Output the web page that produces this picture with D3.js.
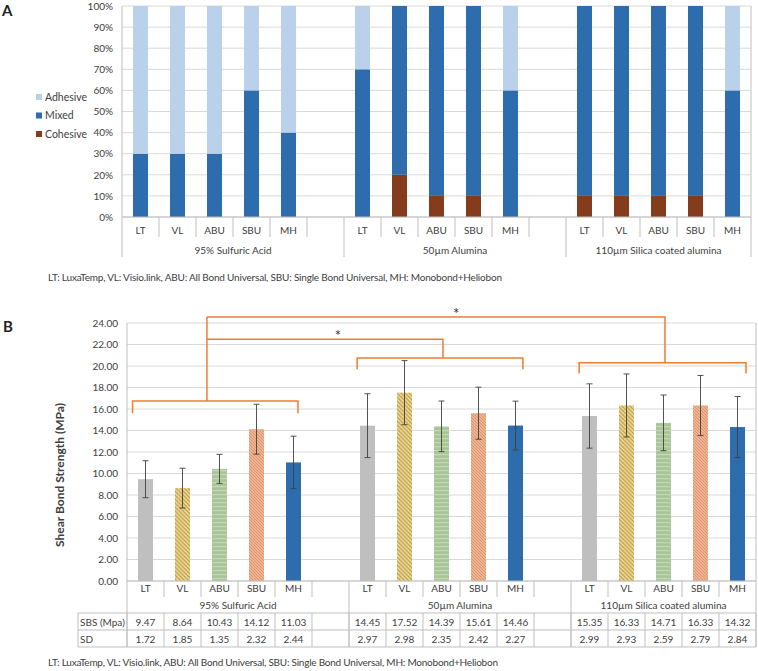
<!DOCTYPE html>
<html>
<head>
<meta charset="utf-8">
<script src="https://cdn.jsdelivr.net/npm/d3@7"></script>
<style>
  body { margin: 0; background: #fff; }
  svg text { font-family: Lato, "Open Sans", sans-serif; fill: #404040; }
</style>
</head>
<body>
<div id="chart"></div>
<script>
// data
var groups = ["95% Sulfuric Acid", "50\u00b5m Alumina", "110\u00b5m Silica coated alumina"];
var materials = ["LT", "VL", "ABU", "SBU", "MH"];
var failureTypes = ["Adhesive", "Mixed", "Cohesive"];
// failure mode (%) per group, per material
var cohesive = [[0, 0, 0, 0, 0], [0, 20, 10, 10, 0], [10, 10, 10, 10, 0]];
var mixed    = [[30, 30, 30, 60, 40], [70, 80, 90, 90, 60], [90, 90, 90, 90, 60]];
var adhesive = [[70, 70, 70, 40, 60], [30, 0, 0, 0, 40], [0, 0, 0, 0, 40]];
// shear bond strength (MPa)
var sbs = [[9.47, 8.64, 10.43, 14.12, 11.03], [14.45, 17.52, 14.39, 15.61, 14.46], [15.35, 16.33, 14.71, 16.33, 14.32]];
var sd  = [[1.72, 1.85, 1.35, 2.32, 2.44], [2.97, 2.98, 2.35, 2.42, 2.27], [2.99, 2.93, 2.59, 2.79, 2.84]];
var pctTicks = [0, 10, 20, 30, 40, 50, 60, 70, 80, 90, 100];
var mpaTicks = [0, 2, 4, 6, 8, 10, 12, 14, 16, 18, 20, 22, 24];
var footnote = "LT: LuxaTemp, VL: Visio.link, ABU: All Bond Universal, SBU: Single Bond Universal, MH: Monobond+Heliobon";

var W = 758, H = 671;
var svg = d3.select("#chart").append("svg").attr("width", W).attr("height", H);

var nSlots = groups.length * 6 - 1;
function slot(g, i) { return g * 6 + i; }
function isEdge(d) { return d === 0 || d === nSlots; }
function isGroupSep(d) { return d % 6 === 0 || d === nSlots; }

var gridCol = "#d9d9d9", lineCol = "#bfbfbf";
var fmColor = { Adhesive: "#b9d1ea", Mixed: "#2e6dad", Cohesive: "#843c1c" };

// patterns for panel B
var defs = svg.append("defs");
var pVL = defs.append("pattern").attr("id", "pVL").attr("patternUnits", "userSpaceOnUse")
  .attr("width", 4).attr("height", 4);
pVL.append("rect").attr("width", 4).attr("height", 4).attr("fill", "#ecd898");
pVL.append("path").attr("d", "M0,0 L4,4 M-1,3 L1,5 M3,-1 L5,1").attr("stroke", "#c6a550").attr("stroke-width", 1.3);
var pSBU = defs.append("pattern").attr("id", "pSBU").attr("patternUnits", "userSpaceOnUse")
  .attr("width", 3).attr("height", 3);
pSBU.append("rect").attr("width", 3).attr("height", 3).attr("fill", "#f2c2a3");
pSBU.append("path").attr("d", "M0,0 L3,3 M-1,2 L1,4 M2,-1 L4,1").attr("stroke", "#e0916a").attr("stroke-width", 1.1);
var pABU = defs.append("pattern").attr("id", "pABU").attr("patternUnits", "userSpaceOnUse")
  .attr("width", 4).attr("height", 4);
pABU.append("rect").attr("width", 4).attr("height", 4).attr("fill", "#a9c597");
pABU.append("rect").attr("y", 2).attr("width", 4).attr("height", 1.2).attr("fill", "#c3d8b4");
var matFill = { LT: "#bfbfbf", VL: "url(#pVL)", ABU: "url(#pABU)", SBU: "url(#pSBU)", MH: "#2e6dad" };

// ---------------- Panel A ----------------
var xa = d3.scaleLinear().domain([0, nSlots]).range([122, 751]);
var ya = d3.scaleLinear().domain([0, 100]).range([217, 6]);
var barWA = 15;

svg.append("text").attr("x", 2).attr("y", 16).text("A")
  .style("font-weight", "bold").style("font-size", "15px").style("fill", "#222");

var ga = svg.append("g");
ga.selectAll(".grid").data(pctTicks).enter().append("line")
  .attr("x1", xa(0)).attr("x2", xa(nSlots))
  .attr("y1", function(d) { return ya(d); }).attr("y2", function(d) { return ya(d); })
  .attr("stroke", gridCol);

var axA = ga.append("g").attr("transform", "translate(" + xa(0) + ",0)")
  .call(d3.axisLeft(ya).tickValues(pctTicks).tickSize(0).tickPadding(9).tickFormat(function(d) { return d + "%"; }));
axA.select(".domain").remove();
axA.selectAll("text").style("font-size", "10px").style("fill", "#404040");

// stacked bars
var stackA = [];
groups.forEach(function(gname, g) {
  materials.forEach(function(m, i) {
    var c = cohesive[g][i], mx = mixed[g][i], a = adhesive[g][i];
    stackA.push({ s: slot(g, i), type: "Cohesive", y0: 0, y1: c });
    stackA.push({ s: slot(g, i), type: "Mixed", y0: c, y1: c + mx });
    stackA.push({ s: slot(g, i), type: "Adhesive", y0: c + mx, y1: c + mx + a });
  });
});
ga.selectAll(".seg").data(stackA.filter(function(d) { return d.y1 > d.y0; })).enter().append("rect")
  .attr("x", function(d) { return xa(d.s + 0.5) - barWA / 2; })
  .attr("width", barWA)
  .attr("y", function(d) { return ya(d.y1); })
  .attr("height", function(d) { return ya(d.y0) - ya(d.y1); })
  .attr("fill", function(d) { return fmColor[d.type]; });

// category axis A
ga.append("line").attr("x1", xa(0)).attr("x2", xa(nSlots)).attr("y1", ya(0)).attr("y2", ya(0)).attr("stroke", lineCol);
ga.selectAll(".csep").data(d3.range(0, nSlots + 1)).enter().append("line")
  .attr("x1", function(d) { return xa(d); }).attr("x2", function(d) { return xa(d); })
  .attr("y1", function(d) { return isEdge(d) ? ya(100) : ya(0); })
  .attr("y2", function(d) { return isGroupSep(d) ? 257 : 237; })
  .attr("stroke", lineCol);
groups.forEach(function(gname, g) {
  ga.selectAll(".cl" + g).data(materials).enter().append("text")
    .attr("x", function(d, i) { return xa(slot(g, i) + 0.5); })
    .attr("y", 234).attr("text-anchor", "middle").style("font-size", "10px")
    .text(function(d) { return d; });
  var gEnd = g < groups.length - 1 ? slot(g, 6) : nSlots;
  ga.append("text").attr("x", (xa(slot(g, 0)) + xa(gEnd)) / 2).attr("y", 254)
    .attr("text-anchor", "middle").style("font-size", "10px").text(gname);
});

// legend A
var leg = ga.selectAll(".leg").data(failureTypes).enter().append("g")
  .attr("transform", function(d, i) { return "translate(36," + (97 + i * 18.5) + ")"; });
leg.append("rect").attr("x", 0).attr("y", -3).attr("width", 6).attr("height", 6)
  .attr("fill", function(d) { return fmColor[d]; });
leg.append("text").attr("x", 9).attr("y", 3.5).style("font-size", "10.5px").text(function(d) { return d; });

svg.append("text").attr("x", 48).attr("y", 281).style("font-size", "10px")
  .attr("textLength", 454).attr("lengthAdjust", "spacing").text(footnote);

// ---------------- Panel B ----------------
var xb = d3.scaleLinear().domain([0, nSlots]).range([127, 756]);
var yb = d3.scaleLinear().domain([0, 24]).range([581, 323]);
var barWB = 15;

svg.append("text").attr("x", 3).attr("y", 332).text("B")
  .style("font-weight", "bold").style("font-size", "15px").style("fill", "#222");

var gb = svg.append("g");
gb.selectAll(".grid").data(mpaTicks).enter().append("line")
  .attr("x1", xb(0)).attr("x2", xb(nSlots))
  .attr("y1", function(d) { return yb(d); }).attr("y2", function(d) { return yb(d); })
  .attr("stroke", gridCol);

var axB = gb.append("g").attr("transform", "translate(" + xb(0) + ",0)")
  .call(d3.axisLeft(yb).tickValues(mpaTicks).tickSize(0).tickPadding(9).tickFormat(d3.format(".2f")));
axB.select(".domain").remove();
axB.selectAll("text").style("font-size", "10px").style("fill", "#404040");

gb.append("text").attr("transform", "translate(64,475) rotate(-90)")
  .attr("text-anchor", "middle").style("font-size", "12px").style("font-weight", "bold")
  .text("Shear Bond Strength (MPa)");

var barsB = [];
groups.forEach(function(gname, g) {
  materials.forEach(function(m, i) {
    barsB.push({ s: slot(g, i), m: m, v: sbs[g][i], e: sd[g][i] });
  });
});
gb.selectAll(".bar").data(barsB).enter().append("rect")
  .attr("x", function(d) { return xb(d.s + 0.5) - barWB / 2; })
  .attr("width", barWB)
  .attr("y", function(d) { return yb(d.v); })
  .attr("height", function(d) { return yb(0) - yb(d.v); })
  .attr("fill", function(d) { return matFill[d.m]; });

// error bars
var eb = gb.selectAll(".err").data(barsB).enter().append("g").attr("stroke", "#404040").attr("stroke-width", 0.9);
eb.append("line")
  .attr("x1", function(d) { return xb(d.s + 0.5); }).attr("x2", function(d) { return xb(d.s + 0.5); })
  .attr("y1", function(d) { return yb(d.v - d.e); }).attr("y2", function(d) { return yb(d.v + d.e); });
eb.append("line")
  .attr("x1", function(d) { return xb(d.s + 0.5) - 3; }).attr("x2", function(d) { return xb(d.s + 0.5) + 3; })
  .attr("y1", function(d) { return yb(d.v + d.e); }).attr("y2", function(d) { return yb(d.v + d.e); });
eb.append("line")
  .attr("x1", function(d) { return xb(d.s + 0.5) - 3; }).attr("x2", function(d) { return xb(d.s + 0.5) + 3; })
  .attr("y1", function(d) { return yb(d.v - d.e); }).attr("y2", function(d) { return yb(d.v - d.e); });

// category axis + data table B
var rowCat = 597, rowGrp = 613, rowSbs = 630, rowSd = 647;
gb.append("line").attr("x1", xb(0)).attr("x2", xb(nSlots)).attr("y1", yb(0)).attr("y2", yb(0)).attr("stroke", lineCol);
gb.selectAll(".csep").data(d3.range(0, nSlots + 1)).enter().append("line")
  .attr("x1", function(d) { return xb(d); }).attr("x2", function(d) { return xb(d); })
  .attr("y1", function(d) { return isEdge(d) ? yb(24) : yb(0); })
  .attr("y2", function(d) { return isGroupSep(d) ? rowSd : rowCat; })
  .attr("stroke", lineCol);
gb.selectAll(".tsep").data(d3.range(0, nSlots + 1)).enter().append("line")
  .attr("x1", function(d) { return xb(d); }).attr("x2", function(d) { return xb(d); })
  .attr("y1", rowGrp).attr("y2", rowSd).attr("stroke", lineCol);
[rowGrp, rowSbs, rowSd].forEach(function(yy) {
  gb.append("line").attr("x1", 78).attr("x2", xb(nSlots)).attr("y1", yy).attr("y2", yy).attr("stroke", lineCol);
});
gb.append("line").attr("x1", 78).attr("x2", 78).attr("y1", rowGrp).attr("y2", rowSd).attr("stroke", lineCol);
gb.append("text").attr("x", 80).attr("y", rowSbs - 4).style("font-size", "10px").text("SBS (Mpa)");
gb.append("text").attr("x", 80).attr("y", rowSd - 4).style("font-size", "10px").text("SD");

groups.forEach(function(gname, g) {
  gb.selectAll(".cl" + g).data(materials).enter().append("text")
    .attr("x", function(d, i) { return xb(slot(g, i) + 0.5); })
    .attr("y", 592).attr("text-anchor", "middle").style("font-size", "10px")
    .text(function(d) { return d; });
  var gEnd = g < groups.length - 1 ? slot(g, 6) : nSlots;
  gb.append("text").attr("x", (xb(slot(g, 0)) + xb(gEnd)) / 2).attr("y", 609)
    .attr("text-anchor", "middle").style("font-size", "10px").text(gname);
  gb.selectAll(".sv" + g).data(sbs[g]).enter().append("text")
    .attr("x", function(d, i) { return xb(slot(g, i) + 0.5); })
    .attr("y", rowSbs - 4).attr("text-anchor", "middle").style("font-size", "10px")
    .text(function(d) { return d.toFixed(2); });
  gb.selectAll(".sd" + g).data(sd[g]).enter().append("text")
    .attr("x", function(d, i) { return xb(slot(g, i) + 0.5); })
    .attr("y", rowSd - 4).attr("text-anchor", "middle").style("font-size", "10px")
    .text(function(d) { return d.toFixed(2); });
});

// significance brackets (slot index / MPa units)
var brackets = [
  { x0: 0.15, x1: 4.62, y: 16.75, tick: 15.6 },
  { x0: 6.22, x1: 10.7, y: 20.75, tick: 19.7 },
  { x0: 12.22, x1: 16.73, y: 20.3, tick: 19.3 }
];
var links = [
  { x0: 2.16, x1: 8.54, y: 22.5, down: 20.75, star: 5.7 },
  { x0: 2.16, x1: 14.54, y: 24.55, down: 20.3, star: 8.9 }
];
var ors = "#ed7d31";
brackets.forEach(function(b) {
  gb.append("path").attr("fill", "none").attr("stroke", ors).attr("stroke-width", 1.5)
    .attr("d", "M" + xb(b.x0) + "," + yb(b.tick) + "V" + yb(b.y) + "H" + xb(b.x1) + "V" + yb(b.tick));
});
gb.append("line").attr("x1", xb(2.16)).attr("x2", xb(2.16)).attr("y1", yb(16.75)).attr("y2", yb(24.55))
  .attr("stroke", ors).attr("stroke-width", 1.5);
links.forEach(function(l) {
  gb.append("path").attr("fill", "none").attr("stroke", ors).attr("stroke-width", 1.5)
    .attr("d", "M" + xb(l.x0) + "," + yb(l.y) + "H" + xb(l.x1) + "V" + yb(l.down));
  gb.append("text").attr("x", xb(l.star)).attr("y", yb(l.y) + 2).attr("text-anchor", "middle")
    .style("font-size", "15px").style("fill", "#333").text("*");
});

svg.append("text").attr("x", 48).attr("y", 666).style("font-size", "10px")
  .attr("textLength", 450).attr("lengthAdjust", "spacing").text(footnote);
</script>
</body>
</html>
